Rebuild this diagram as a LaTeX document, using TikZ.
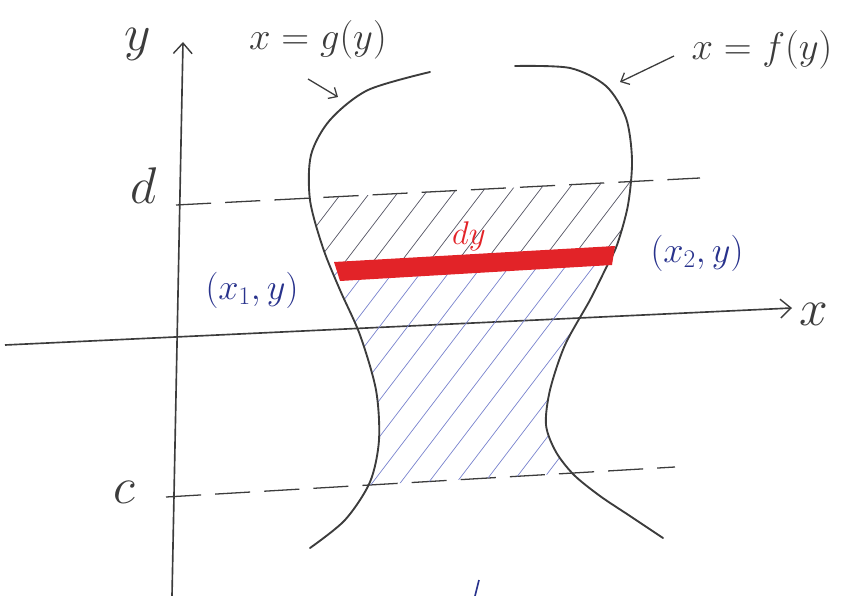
\RequirePackage{fix-cm}
\documentclass[tikz,border=0pt]{standalone}
\usepackage{amsmath}
\usepackage{xcolor}
\usetikzlibrary{arrows.meta, positioning}

\definecolor{pencil}{RGB}{60,60,60}
\definecolor{inkblue}{RGB}{40,50,140}
\definecolor{hatchblue}{RGB}{120,130,205}
\definecolor{hatchgray}{RGB}{85,85,100}
\definecolor{marker}{RGB}{226,35,40}

\begin{document}
\begin{tikzpicture}[
  x=0.03cm, y=-0.03cm,
  axis/.style={pencil, line width=1.4pt, -{Straight Barb[length=9pt,width=16pt,line width=1.2pt]}},
  curve/.style={pencil, line width=1.6pt, line cap=round},
  dashline/.style={pencil, line width=1.1pt, dash pattern={on 30pt off 12pt}},
  hatch/.style={line width=0.6pt},
  pointer/.style={pencil, line width=1.1pt, -{Straight Barb[length=6pt,width=11pt]}},
  big/.style={pencil, font=\fontsize{44}{48}\selectfont, inner sep=0pt},
  lbl/.style={pencil, font=\fontsize{33}{36}\selectfont, inner sep=0pt},
  pair/.style={inkblue, font=\fontsize{31}{34}\selectfont, inner sep=0pt}
]
  \useasboundingbox (0,0) rectangle (844,596);

  % axes
  \coordinate (ybot) at (172,596);
  \coordinate (ytop) at (183,42);
  \coordinate (xleft) at (5,345);
  \coordinate (xright) at (792,308);
  \draw[axis] (ybot) -- (ytop);
  \draw[axis] (xleft) -- (xright);
  \node[big] (ylab) at (138,44) {$y$};
  \node[big] (xlab) at (814,314) {$x$};

  % levels d and c
  \coordinate (dleft) at (176,205);
  \coordinate (dright) at (700,178);
  \coordinate (cleft) at (166,497);
  \coordinate (cright) at (675,467);
  \draw[dashline] (dleft) -- (dright);
  \draw[dashline] (cleft) -- (cright);
  \node[big] (dlab) at (144,186) {$d$};
  \node[big] (clab) at (124,492) {$c$};

  % shaded region between the curves
  \begin{scope}
    \clip (dleft) -- (dright) -- (cright) -- (cleft) -- cycle;
    \clip plot[smooth] coordinates {(430,72) (368,90) (330,120) (311,155)
      (310,200) (323,248) (340,290) (360,335) (376,390) (379,440)
      (370,482) (345,520) (310,548)}
      -- plot[smooth] coordinates {(663,538) (630,516) (600,496) (574,475)
      (556,452) (546,425) (550,390) (565,345) (590,300) (605,270)
      (617,245) (628,205) (632,160) (626,118) (606,86) (570,68) (515,66)}
      -- cycle;
    \begin{scope}
      \clip (0,0) rectangle (844,262);
      \foreach \i in {-300,-272,...,700}
        \draw[hatch, hatchgray] (\i,520) -- (\i+290,140);
    \end{scope}
    \begin{scope}
      \clip (0,262) rectangle (844,596);
      \foreach \i in {-300,-272,...,700}
        \draw[hatch, hatchblue] (\i,520) -- (\i+290,140);
    \end{scope}
  \end{scope}

  % x = g(y)
  \draw[curve] plot[smooth] coordinates {(430,72) (368,90) (330,120) (311,155)
    (310,200) (323,248) (340,290) (360,335) (376,390) (379,440)
    (370,482) (345,520) (310,548)};
  % x = f(y)
  \draw[curve] plot[smooth] coordinates {(515,66) (570,68) (606,86) (626,118)
    (632,160) (628,205) (617,245) (605,270) (590,300) (565,345) (550,390)
    (546,425) (556,452) (574,475) (600,496) (630,516) (663,538)};

  % strip
  \fill[marker] (334,262) -- (615,246) -- (612,265) -- (340,281) -- cycle;
  \node[marker, font=\fontsize{28}{30}\selectfont, inner sep=0pt] (dylab) at (469,236) {$dy$};
  \node[pair] (p1) at (252,290) {$(x_1,y)$};
  \node[pair] (p2) at (697,253) {$(x_2,y)$};

  % curve labels
  \node[lbl] (glab) at (318,40) {$x=g(y)$};
  \node[lbl] (flab) at (762,50) {$x=f(y)$};
  \coordinate (gtail) at (308,79);
  \coordinate (ghead) at (338,97);
  \coordinate (ftail) at (674,56);
  \coordinate (fhead) at (620,82);
  \draw[pointer] (gtail) -- (ghead);
  \draw[pointer] (ftail) -- (fhead);

  \coordinate (mtop) at (479,580);
  \coordinate (mbot) at (475,596);
  \draw[inkblue, line width=1.4pt] (mtop) -- (mbot);
\end{tikzpicture}
\end{document}
